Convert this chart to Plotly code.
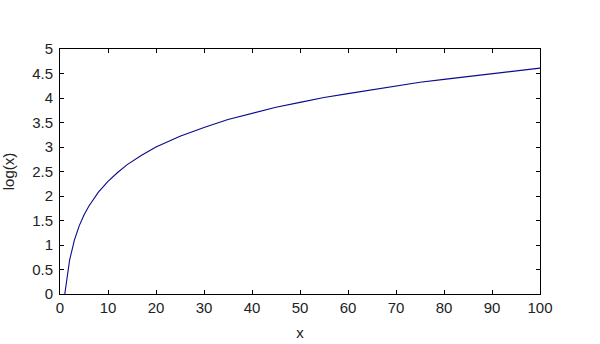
import plotly.graph_objects as go

x_vals = [1, 2, 3, 4, 5, 6, 8, 10, 12, 14, 17, 20, 25, 30, 35, 40, 45, 50,
          55, 60, 65, 70, 75, 80, 85, 90, 95, 100]
y_vals = [0.0, 0.69, 1.10, 1.39, 1.61, 1.79, 2.08, 2.30, 2.48, 2.64, 2.83, 3.00,
          3.22, 3.40, 3.56, 3.69, 3.81, 3.91, 4.01, 4.09, 4.17, 4.25, 4.32, 4.38,
          4.44, 4.50, 4.55, 4.61]
x_ticks = [0, 10, 20, 30, 40, 50, 60, 70, 80, 90, 100]
y_ticks = [0, 0.5, 1, 1.5, 2, 2.5, 3, 3.5, 4, 4.5, 5]

font = dict(family="Liberation Sans", size=15, color="#222")

fig = go.Figure(go.Scatter(x=x_vals, y=y_vals, mode="lines",
                           line=dict(color="#0a0a8a", width=1.1)))

axis_common = dict(showgrid=False, zeroline=False, showline=True, linecolor="black",
                   linewidth=1, mirror="ticks", ticks="inside", ticklen=4,
                   tickcolor="black", tickwidth=1, tickfont=font, automargin=False)

fig.update_layout(
    width=600, height=344,
    margin=dict(l=60, r=60, t=49, b=50),
    paper_bgcolor="white", plot_bgcolor="white",
    showlegend=False,
    xaxis=dict(range=[0, 100], tickvals=x_ticks,
               title=dict(text="x", font=font, standoff=12),
               **axis_common),
    yaxis=dict(range=[0, 5], tickvals=y_ticks, ticktext=[str(t) for t in y_ticks],
               ticklabelstandoff=3,
               title=dict(text="log(x)", font=font, standoff=15),
               **axis_common),
)

fig.write_html("out.html")
